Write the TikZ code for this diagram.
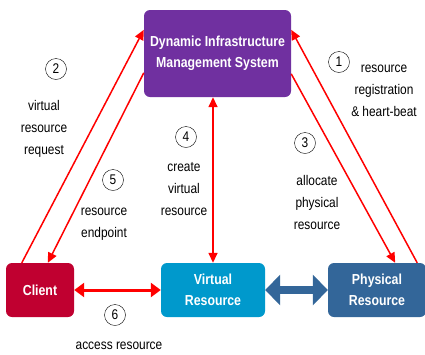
\documentclass[tikz,border=0pt]{standalone}
\usepackage{fontspec}
\setmainfont{Liberation Sans}
\newfontfamily\narrowfont[FakeStretch=0.85]{Liberation Sans}
\usetikzlibrary{arrows.meta, positioning, calc}
\definecolor{dimspurple}{HTML}{7030A0}
\definecolor{clientred}{HTML}{C00030}
\definecolor{virtualblue}{HTML}{0099CC}
\definecolor{physblue}{HTML}{336699}
\definecolor{flowred}{HTML}{FF0000}
\tikzset{
    box/.style={rounded corners=6pt, text=white, align=center, inner sep=0pt,
        font=\narrowfont\fontsize{14.5}{21.5}\selectfont\bfseries},
    flow/.style={-{Triangle[length=10pt,width=9pt]}, draw=flowred, line width=1.5pt},
    stepnum/.style={circle, draw, thin, minimum size=21pt, inner sep=0pt,
        font=\narrowfont\fontsize{14}{14}\selectfont},
    note/.style={align=center, font=\narrowfont\fontsize{14}{22}\selectfont}
}

\begin{document}
\begin{tikzpicture}[x=1pt, y=-1pt]
    \useasboundingbox (0,0) rectangle (425,354);
    % Boxes
    \node[box, fill=dimspurple, minimum width=147pt, minimum height=87pt] (dims) at (217.5,53.5)
        {Dynamic Infrastructure\\Management System};
    \node[box, fill=clientred, minimum width=68pt, minimum height=54pt] (client) at (40,290) {Client};
    \node[box, fill=virtualblue, minimum width=104pt, minimum height=54pt] (virtual) at (213,290)
        {Virtual\\Resource};
    \node[box, fill=physblue, minimum width=98pt, minimum height=54pt] (physical) at (377,290)
        {Physical\\Resource};
    % Client <-> management system
    \draw[flow] ([xshift=16pt]client.north west) -- ([yshift=-20pt]dims.north west);
    \draw[flow] ([yshift=-63pt]dims.north west) -- ([xshift=42pt]client.north west);
    % Physical resource <-> management system
    \draw[flow] ([xshift=-9pt]physical.north east) -- ([yshift=-20pt]dims.north east);
    \draw[flow] ([yshift=-64pt]dims.north east) -- ([xshift=-31pt]physical.north east);
    % Management system <-> virtual resource
    \draw[flow, {Triangle[length=10pt,width=9pt]}-{Triangle[length=10pt,width=9pt]}]
        (virtual.north |- dims.south) -- (virtual.north);
    % Bottom row
    \draw[draw=flowred, line width=3pt, {Triangle[length=10pt,width=14pt]}-{Triangle[length=10pt,width=14pt]}]
        (client.east) -- (virtual.west);
    \draw[draw=physblue, line width=8pt, {Triangle[length=15pt,width=30pt]}-{Triangle[length=15pt,width=30pt]}]
        (virtual.east) -- (physical.west);
    % Step numbers
    \node[stepnum] (s1) at (339,62) {1};
    \node[stepnum] (s2) at (56,69) {2};
    \node[stepnum] (s3) at (305,143) {3};
    \node[stepnum] (s4) at (186,137) {4};
    \node[stepnum] (s5) at (113,180) {5};
    \node[stepnum] (s6) at (115,315) {6};
    % Step labels
    \node[note] (n1) at (384,91) {resource\\registration\\\& heart-beat};
    \node[note] (n2) at (44,129) {virtual\\resource\\request};
    \node[note] (n3) at (317,202) {allocate\\physical\\resource};
    \node[note] (n4) at (184,189) {create\\virtual\\resource};
    \node[note] (n5) at (104,224) {resource\\endpoint};
    \node[note] (n6) at (119,346) {access resource};
\end{tikzpicture}
\end{document}
